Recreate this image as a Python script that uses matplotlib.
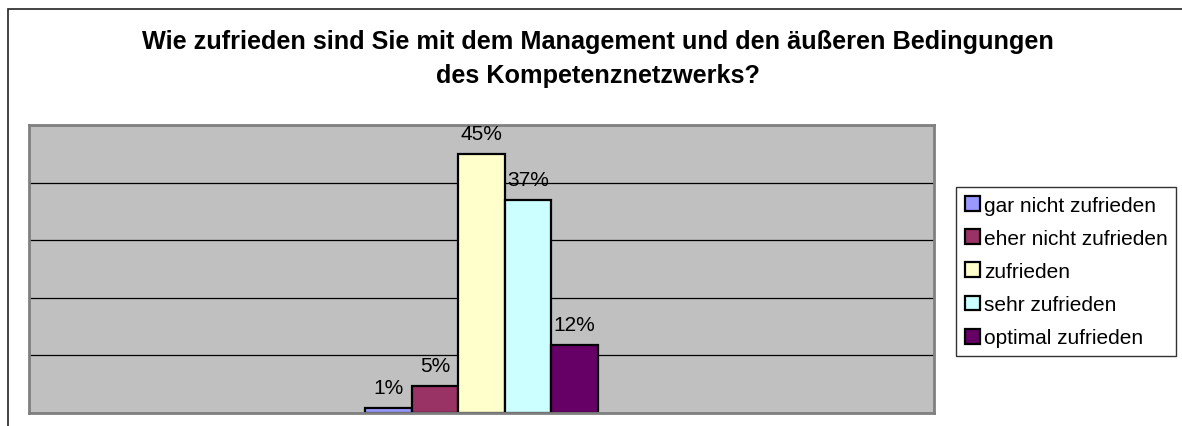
import matplotlib
matplotlib.use("Agg")
import matplotlib.pyplot as plt
from matplotlib.patches import Rectangle
import numpy as np

plt.rcParams['font.family'] = ['Liberation Sans', 'DejaVu Sans']

# answer categories and their shares (percent)
categories = ["gar nicht zufrieden", "eher nicht zufrieden", "zufrieden",
              "sehr zufrieden", "optimal zufrieden"]
shares = [0.8, 4.7, 45.0, 37.0, 11.8]
colors = ["#9999FF", "#993366", "#FFFFCC", "#CCFFFF", "#660066"]
title_lines = ["Wie zufrieden sind Sie mit dem Management und den äußeren Bedingungen",
               "des Kompetenznetzwerks?"]

W, H = 1182, 427
fig = plt.figure(figsize=(W / 100, H / 100), dpi=100)

# outer chart frame (runs off the right and bottom edge)
fig.patches.append(Rectangle((8 / W, -0.1), 1.2, (H - 10) / H + 0.1,
                             transform=fig.transFigure, fill=False,
                             edgecolor="#222222", lw=1.2))

ax = fig.add_axes([29 / W, (H - 414) / H, 905 / W, 288 / H])
ax.set_facecolor("#C0C0C0")
for s in ax.spines.values():
    s.set_color("#808080")
    s.set_linewidth(2)

ax.set_ylim(0, 50)
ax.set_xlim(-0.5, 0.5)
ax.set_yticks(np.arange(0, 51, 10))
ax.yaxis.grid(True, color="black", lw=0.9)
ax.set_axisbelow(True)
ax.tick_params(left=False, bottom=False, labelleft=False, labelbottom=False)

bw = 0.0515
xs = (np.arange(len(shares)) - 2) * bw
ax.bar(xs, shares, width=bw, color=colors, edgecolor="black", linewidth=1.6)
for x, v in zip(xs, shares):
    ax.annotate(f"{v:.0f}%", (x, v), xytext=(0, 11), textcoords="offset pixels",
                ha="center", va="bottom", fontsize=15)

handles = [Rectangle((0, 0), 1, 1, facecolor=c, edgecolor="black", lw=1.6)
           for c in colors]
leg = fig.legend(handles, categories, loc="upper left",
                 bbox_to_anchor=(956 / W, 1 - 188 / H), fontsize=15,
                 frameon=True, fancybox=False, handlelength=0.72,
                 handleheight=0.72, handletextpad=0.2, labelspacing=0.68,
                 borderpad=0.42, borderaxespad=0)
leg.get_frame().set_edgecolor("black")
leg.get_frame().set_linewidth(1.0)

for line, base in zip(title_lines, [49, 83]):
    fig.text(598 / W, 1 - base / H, line, ha="center", va="baseline",
             fontsize=18.2, fontweight="bold")

fig.savefig("out.png", dpi=100)
